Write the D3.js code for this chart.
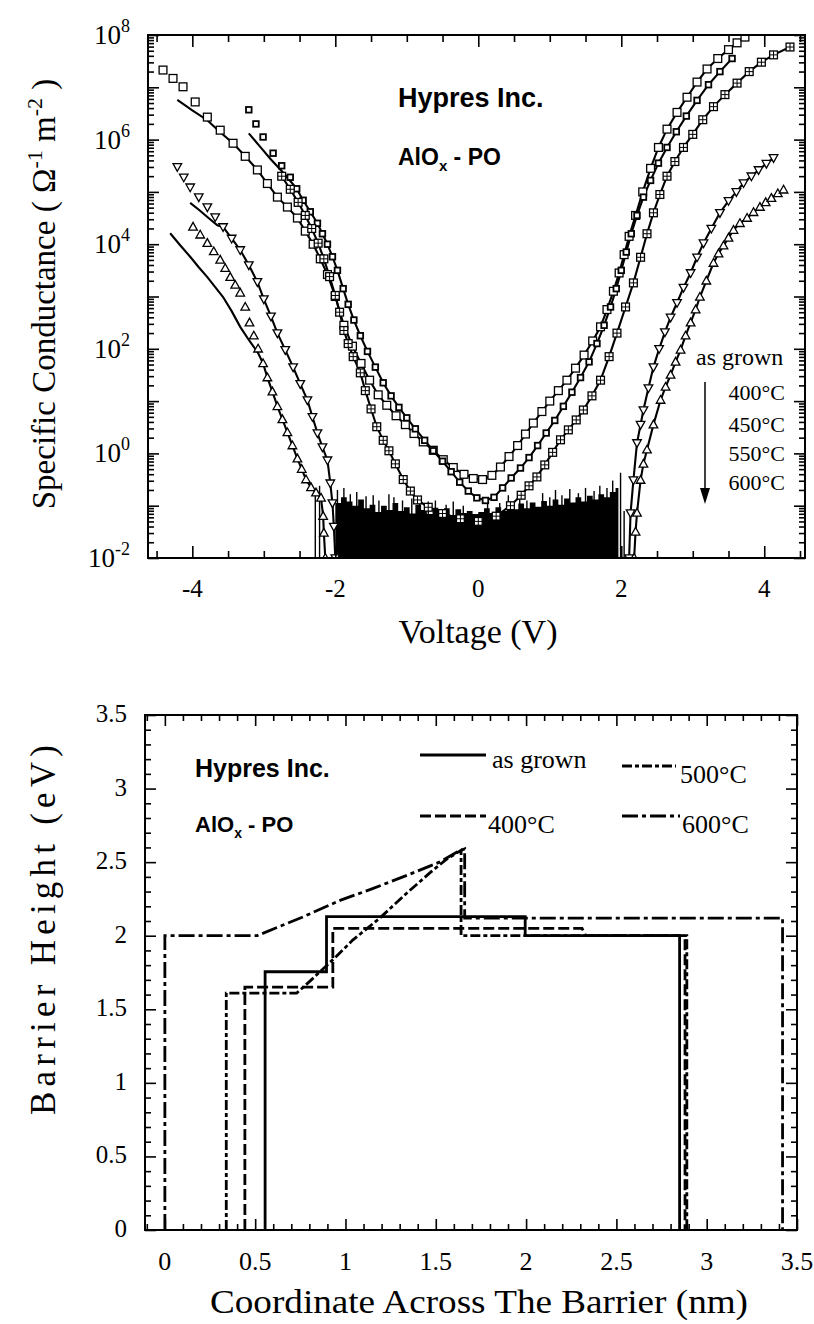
<!DOCTYPE html>
<html>
<head>
<meta charset="utf-8">
<script src="https://cdn.jsdelivr.net/npm/d3@7"></script>
<style>
  body { margin: 0; background: #fff; }
  svg { display: block; }
  .serif { font-family: "Liberation Serif", "Times New Roman", serif; fill: #000; }
  .sans { font-family: "Liberation Sans", Arial, sans-serif; font-weight: bold; fill: #000; }
</style>
</head>
<body>
<svg id="fig" width="814" height="1324"></svg>
<script>
// ================= Upper panel: specific conductance vs voltage =================
// Each point is [voltage (V), log10 of conductance (Ω⁻¹ m⁻²)]
const voltageTicks = [-4, -2, 0, 2, 4];
const decadeLabels = [-2, 0, 2, 4, 6, 8];
const annealLabels = ["400°C", "450°C", "550°C", "600°C"];

const asGrownPts = [[-4.41,7.33],[-4.27,7.17],[-4.13,7.01],[-3.96,6.72],[-3.79,6.43],[-3.61,6.18],[-3.43,5.93],[-3.26,5.68],[-3.09,5.42],[-2.95,5.16],[-2.81,4.90],[-2.67,4.71],[-2.53,4.50],[-2.42,4.25],[-2.31,4.00],[-2.21,3.72],[-2.11,3.42],[-2.00,3.00],[-1.88,2.45],[-1.76,2.05],[-1.64,1.72],[-1.52,1.40],[-1.40,1.12],[-1.28,0.92],[-1.15,0.72],[-1.02,0.55],[-0.90,0.38],[-0.77,0.22],[-0.63,0.06],[-0.49,-0.12],[-0.35,-0.27],[-0.20,-0.40],[-0.07,-0.48],[0.06,-0.50],[0.19,-0.42],[0.31,-0.26],[0.43,-0.06],[0.55,0.15],[0.66,0.37],[0.77,0.58],[0.89,0.80],[1.00,1.00],[1.12,1.20],[1.24,1.40],[1.36,1.63],[1.48,1.88],[1.60,2.15],[1.71,2.42],[1.80,2.75],[1.89,3.10],[1.97,3.45],[2.04,3.80],[2.11,4.15],[2.20,4.55],[2.30,5.00],[2.41,5.45],[2.52,5.85],[2.64,6.20],[2.78,6.52],[2.92,6.81],[3.06,7.10],[3.20,7.35],[3.35,7.55],[3.50,7.72],[3.62,7.85],[3.73,7.96]];
const asGrownFitLead = [[-4.21,6.76],[-4.00,6.56],[-3.79,6.37],[-3.61,6.14]];

const anneal400Pts = [[-3.21,6.57],[-3.11,6.30],[-3.01,6.05],[-2.87,5.74],[-2.75,5.50],[-2.63,5.28],[-2.54,5.06],[-2.45,4.84],[-2.35,4.62],[-2.25,4.40],[-2.18,4.20],[-2.11,4.00],[-2.04,3.76],[-1.97,3.50],[-1.89,3.15],[-1.82,2.85],[-1.74,2.55],[-1.65,2.25],[-1.55,1.95],[-1.44,1.65],[-1.33,1.35],[-1.22,1.10],[-1.11,0.88],[-1.00,0.68],[-0.88,0.47],[-0.75,0.25],[-0.63,0.05],[-0.50,-0.15],[-0.38,-0.35],[-0.26,-0.55],[-0.14,-0.72],[-0.02,-0.85],[0.10,-0.90],[0.22,-0.84],[0.34,-0.66],[0.46,-0.47],[0.59,-0.28],[0.71,-0.08],[0.83,0.15],[0.95,0.39],[1.07,0.63],[1.19,0.90],[1.31,1.17],[1.43,1.45],[1.55,1.75],[1.66,2.10],[1.76,2.45],[1.85,2.80],[1.93,3.15],[2.00,3.50],[2.07,3.85],[2.14,4.20],[2.22,4.55],[2.31,4.90],[2.41,5.22],[2.52,5.55],[2.64,5.85],[2.77,6.15],[2.91,6.45],[3.06,6.75],[3.22,7.05],[3.38,7.30],[3.55,7.55]];
const anneal400FitLead = [[-3.21,6.12],[-3.05,5.86],[-2.90,5.62],[-2.75,5.40],[-2.60,5.16]];

const anneal450Pts = [[-2.75,5.30],[-2.63,5.05],[-2.52,4.80],[-2.42,4.55],[-2.33,4.30],[-2.24,4.02],[-2.16,3.72],[-2.08,3.38],[-2.00,3.02],[-1.94,2.70],[-1.88,2.35],[-1.82,2.10],[-1.75,1.85],[-1.65,1.54],[-1.58,1.20],[-1.50,0.85],[-1.42,0.51],[-1.33,0.25],[-1.25,0.05],[-1.16,-0.20],[-1.05,-0.50],[-0.95,-0.72],[-0.85,-0.89],[-0.70,-1.03],[-0.50,-1.15],[-0.25,-1.25],[0.00,-1.30],[0.25,-1.20],[0.45,-1.00],[0.60,-0.80],[0.71,-0.62],[0.82,-0.45],[0.93,-0.22],[1.04,0.02],[1.15,0.26],[1.26,0.45],[1.37,0.64],[1.47,0.83],[1.59,1.10],[1.71,1.40],[1.83,1.85],[1.94,2.30],[2.06,2.80],[2.17,3.26],[2.27,3.75],[2.36,4.20],[2.45,4.60],[2.54,4.95],[2.64,5.30],[2.75,5.58],[2.87,5.85],[3.00,6.10],[3.14,6.38],[3.29,6.63],[3.45,6.86],[3.62,7.08],[3.79,7.30],[3.96,7.48],[4.13,7.62],[4.36,7.77]];

const anneal550Left = [[-4.21,5.48],[-4.12,5.28],[-4.03,5.09],[-3.91,4.90],[-3.79,4.71],[-3.68,4.52],[-3.57,4.33],[-3.45,4.11],[-3.33,3.89],[-3.21,3.60],[-3.09,3.28],[-3.00,2.95],[-2.90,2.62],[-2.81,2.30],[-2.70,1.98],[-2.59,1.65],[-2.49,1.33],[-2.39,1.02],[-2.32,0.70],[-2.25,0.39],[-2.18,0.12],[-2.11,-0.13],[-2.07,-0.57],[-2.04,-0.95],[-2.02,-1.40],[-2.00,-2.00]];
const anneal550FitLead = [[-4.03,4.79],[-3.90,4.65],[-3.79,4.52],[-3.65,4.36]];
const anneal550Right = [[2.11,-2.00],[2.13,-1.14],[2.17,-0.51],[2.22,0.20],[2.27,0.55],[2.31,0.83],[2.38,1.25],[2.45,1.65],[2.53,2.00],[2.61,2.32],[2.69,2.60],[2.78,2.88],[2.87,3.17],[2.97,3.45],[3.06,3.75],[3.15,4.02],[3.26,4.30],[3.38,4.60],[3.50,4.83],[3.61,5.00],[3.71,5.17],[3.82,5.30],[3.92,5.42],[4.03,5.54],[4.13,5.65]];

const anneal600Left = [[-3.99,4.33],[-3.89,4.18],[-3.79,4.02],[-3.70,3.86],[-3.61,3.70],[-3.54,3.54],[-3.47,3.37],[-3.40,3.22],[-3.33,3.07],[-3.26,2.80],[-3.20,2.50],[-3.14,2.25],[-3.08,2.00],[-3.01,1.72],[-2.95,1.45],[-2.88,1.18],[-2.81,0.90],[-2.74,0.65],[-2.67,0.40],[-2.60,0.15],[-2.53,-0.10],[-2.47,-0.30],[-2.41,-0.50],[-2.34,-0.65],[-2.27,-0.75],[-2.20,-0.85],[-2.17,-1.20],[-2.16,-1.52],[-2.14,-2.00]];
const anneal600FitLead = [[-4.31,4.21],[-4.17,3.98],[-4.03,3.76],[-3.91,3.56],[-3.79,3.37],[-3.68,3.18],[-3.57,2.99],[-3.45,2.72],[-3.33,2.42],[-3.20,2.15],[-3.08,1.92]];
const anneal600Right = [[2.18,-2.00],[2.20,-1.50],[2.22,-1.14],[2.27,-0.51],[2.31,-0.20],[2.36,0.07],[2.45,0.55],[2.55,1.02],[2.62,1.27],[2.69,1.50],[2.76,1.75],[2.83,1.98],[2.90,2.25],[2.97,2.50],[3.04,2.75],[3.10,2.99],[3.19,3.30],[3.29,3.64],[3.36,3.82],[3.43,3.97],[3.50,4.12],[3.57,4.27],[3.66,4.40],[3.76,4.50],[3.85,4.61],[3.94,4.71],[4.02,4.80],[4.10,4.88],[4.19,4.97],[4.27,5.04]];

// measurement noise floor near zero bias: [voltage, upper edge in log10]
const noiseFloorTop = [[-2.00,-0.95],[-1.92,-0.84],[-1.84,-0.92],[-1.76,-1.00],[-1.68,-0.88],[-1.60,-1.05],[-1.52,-0.98],[-1.44,-1.12],[-1.36,-1.00],[-1.28,-1.08],[-1.20,-0.95],[-1.12,-1.10],[-1.04,-1.03],[-0.96,-1.15],[-0.88,-0.98],[-0.80,-1.08],[-0.72,-1.16],[-0.64,-1.04],[-0.56,-1.12],[-0.48,-1.05],[-0.40,-1.18],[-0.32,-1.07],[-0.24,-1.14],[-0.16,-1.10],[-0.08,-1.16],[0.00,-1.12],[0.08,-1.05],[0.16,-1.14],[0.24,-1.03],[0.32,-1.10],[0.40,-1.00],[0.48,-1.07],[0.56,-0.96],[0.64,-1.05],[0.72,-0.94],[0.80,-1.02],[0.88,-0.91],[0.96,-1.00],[1.04,-0.88],[1.12,-0.98],[1.20,-0.86],[1.28,-0.94],[1.36,-0.84],[1.44,-0.92],[1.52,-0.81],[1.60,-0.88],[1.68,-0.78],[1.76,-0.84],[1.84,-0.74],[1.92,-0.66],[1.96,-0.66]];
const noiseSpikes = [[-2.28,-0.70],[-2.22,-0.62],[-1.97,-0.70],[-1.88,-0.66],[-1.79,-0.78],[-1.70,-0.74],[-1.57,-0.82],[-1.47,-0.80],[-1.39,-0.90],[-1.25,-0.78],[-1.18,-0.84],[-1.06,-0.90],[-0.93,-0.86],[-0.82,-0.95],[-0.70,-0.92],[-0.60,-0.90],[-0.45,-0.98],[-0.35,-0.92],[-0.21,-1.00],[0.13,-0.94],[0.30,-0.95],[0.42,-0.80],[0.58,-0.76],[0.68,-0.90],[0.90,-0.76],[1.00,-0.84],[1.08,-0.70],[1.17,-0.80],[1.28,-0.68],[1.40,-0.76],[1.50,-0.66],[1.62,-0.72],[1.70,-0.62],[1.80,-0.66],[1.88,-0.52],[1.99,-0.37],[2.04,-1.10]];

// ================= Lower panel: barrier height profiles =================
// Each point is [coordinate (nm), barrier height (eV)]
const coordTicks = [0, 0.5, 1, 1.5, 2, 2.5, 3, 3.5];
const heightTicks = [0, 0.5, 1, 1.5, 2, 2.5, 3, 3.5];
const profileNames = ["as grown", "400°C", "500°C", "600°C"];
const profileAsGrown = [[0.555,0],[0.555,1.755],[0.895,1.755],[0.895,2.13],[1.995,2.13],[1.995,2.0],[2.85,2.0],[2.85,0]];
const profile400 = [[0.443,0],[0.443,1.65],[0.93,1.65],[0.93,2.05],[2.31,2.05],[2.33,2.0],[2.88,2.0],[2.88,0]];
const profile500 = [[0.34,0],[0.34,1.61],[0.73,1.61],[0.82,1.71],[0.95,1.86],[1.04,1.97],[1.19,2.12],[1.34,2.29],[1.47,2.43],[1.56,2.52],[1.64,2.58],[1.64,2.0],[2.89,2.0],[2.89,0]];
const profile600 = [[0,0],[0,2.0],[0.51,2.0],[0.75,2.12],[0.97,2.24],[1.15,2.32],[1.34,2.41],[1.52,2.50],[1.62,2.57],[1.66,2.59],[1.66,2.12],[3.42,2.12],[3.42,0]];

// ------------------------------------------------------------------------
const svg = d3.select("#fig");
const SERIF = "serif", SANS = "sans";

function addText(g, str, x, y, size, cls, anchor) {
  return g.append("text").attr("class", cls).attr("x", x).attr("y", y)
    .attr("font-size", size).attr("text-anchor", anchor || "start").text(str);
}

// ---------------- upper panel ----------------
const P1 = { left: 148, right: 805, top: 35, bottom: 558 };
const xV = d3.scaleLinear().domain([-4.62, 4.57]).range([P1.left, P1.right]);
const yG = d3.scaleLog().domain([1e-2, 1e8]).range([P1.bottom, P1.top]);
const g1 = svg.append("g");

g1.append("clipPath").attr("id", "clip1").append("rect")
  .attr("x", P1.left).attr("y", P1.top).attr("width", P1.right - P1.left).attr("height", P1.bottom - P1.top);
const plot1 = g1.append("g").attr("clip-path", "url(#clip1)");

const lineVG = d3.line().x(d => xV(d[0])).y(d => yG(Math.pow(10, d[1])));

// noise floor mass
const floorArea = d3.area()
  .x(d => xV(d[0]))
  .y0(yG(1e-2) + 2)
  .y1(d => yG(Math.pow(10, d[1])))
  .curve(d3.curveStepAfter);
plot1.append("path").datum(noiseFloorTop).attr("d", floorArea).attr("fill", "#000");
plot1.selectAll("line.spike").data(noiseSpikes).join("line").attr("class", "spike")
  .attr("x1", d => xV(d[0])).attr("x2", d => xV(d[0]))
  .attr("y1", d => yG(Math.pow(10, d[1]))).attr("y2", P1.bottom)
  .attr("stroke", "#000").attr("stroke-width", 1.4);

const series = [
  { pts: asGrownPts, lead: asGrownFitLead, marker: "square" },
  { pts: anneal400Pts, lead: anneal400FitLead, marker: "smallSquare" },
  { pts: anneal450Pts, lead: null, marker: "crossSquare" },
  { pts: anneal550Left, lead: anneal550FitLead, marker: "triDown" },
  { pts: anneal550Right, lead: null, marker: "triDown" },
  { pts: anneal600Left, lead: anneal600FitLead, marker: "triUp" },
  { pts: anneal600Right, lead: null, marker: "triUp" }
];

// fitted curves
series.forEach(s => {
  let path = s.pts;
  if (s.lead) {
    const lastV = s.lead[s.lead.length - 1][0];
    path = s.lead.concat(s.pts.filter(p => p[0] > lastV));
  }
  plot1.append("path").datum(path).attr("d", lineVG)
    .attr("fill", "none").attr("stroke", "#000").attr("stroke-width", 2.1);
});

// measured points
function drawMarker(g, type, cx, cy) {
  const st = { stroke: "#000", "stroke-width": 1.3, fill: "#fff" };
  let el;
  if (type === "square" || type === "crossSquare") {
    const h = 3.9;
    el = g.append("rect").attr("x", cx - h).attr("y", cy - h).attr("width", 2 * h).attr("height", 2 * h);
  } else if (type === "smallSquare") {
    const h = 2.8;
    el = g.append("rect").attr("x", cx - h).attr("y", cy - h).attr("width", 2 * h).attr("height", 2 * h);
    st["stroke-width"] = 1.8;
  } else if (type === "triUp") {
    el = g.append("path").attr("d", `M${cx},${cy - 4.5}L${cx + 4.3},${cy + 3.2}L${cx - 4.3},${cy + 3.2}Z`);
  } else {
    el = g.append("path").attr("d", `M${cx},${cy + 4.5}L${cx + 4.3},${cy - 3.2}L${cx - 4.3},${cy - 3.2}Z`);
  }
  Object.entries(st).forEach(([k, v]) => el.attr(k, v));
  if (type === "crossSquare") {
    g.append("path").attr("d", `M${cx - 3.9},${cy}H${cx + 3.9}M${cx},${cy - 3.9}V${cy + 3.9}`)
      .attr("stroke", "#000").attr("stroke-width", 1);
  }
}
series.forEach(s => {
  const mg = plot1.append("g");
  s.pts.forEach(p => drawMarker(mg, s.marker, xV(p[0]), yG(Math.pow(10, p[1]))));
});

// axes (inward ticks on all four sides)
function styleAxis(sel) {
  sel.select(".domain").remove();
  sel.selectAll(".tick line").attr("stroke", "#000").attr("stroke-width", 1.6);
}
const vMinor = d3.range(-4.5, 4.51, 0.5).filter(v => !voltageTicks.includes(v));
const decades = d3.range(-2, 9);
const logMinor = [];
decades.slice(0, -1).forEach(d => d3.range(2, 10).forEach(m => logMinor.push(m * Math.pow(10, d))));
const gMaj = x => Math.pow(10, x);

g1.append("g").attr("transform", `translate(0,${P1.bottom})`)
  .call(d3.axisBottom(xV).tickValues(voltageTicks).tickSize(-12).tickFormat("")).call(styleAxis);
g1.append("g").attr("transform", `translate(0,${P1.bottom})`)
  .call(d3.axisBottom(xV).tickValues(vMinor).tickSize(-7).tickFormat("")).call(styleAxis);
g1.append("g").attr("transform", `translate(0,${P1.top})`)
  .call(d3.axisTop(xV).tickValues(voltageTicks).tickSize(-12).tickFormat("")).call(styleAxis);
g1.append("g").attr("transform", `translate(0,${P1.top})`)
  .call(d3.axisTop(xV).tickValues(vMinor).tickSize(-7).tickFormat("")).call(styleAxis);
g1.append("g").attr("transform", `translate(${P1.left},0)`)
  .call(d3.axisLeft(yG).tickValues(decades.map(gMaj)).tickSize(-11).tickFormat("")).call(styleAxis);
g1.append("g").attr("transform", `translate(${P1.left},0)`)
  .call(d3.axisLeft(yG).tickValues(logMinor).tickSize(-6).tickFormat("")).call(styleAxis);
g1.append("g").attr("transform", `translate(${P1.right},0)`)
  .call(d3.axisRight(yG).tickValues(decades.map(gMaj)).tickSize(-11).tickFormat("")).call(styleAxis);
g1.append("g").attr("transform", `translate(${P1.right},0)`)
  .call(d3.axisRight(yG).tickValues(logMinor).tickSize(-6).tickFormat("")).call(styleAxis);

g1.append("rect").attr("x", P1.left).attr("y", P1.top)
  .attr("width", P1.right - P1.left).attr("height", P1.bottom - P1.top)
  .attr("fill", "none").attr("stroke", "#000").attr("stroke-width", 2);

// tick labels
voltageTicks.forEach(v => addText(g1, String(v), xV(v), 597, 25, SERIF, "middle"));
decadeLabels.forEach(d => {
  const t = g1.append("text").attr("class", SERIF).attr("x", 130).attr("y", yG(gMaj(d)) + 9)
    .attr("font-size", 27).attr("text-anchor", "end");
  t.append("tspan").text("10");
  t.append("tspan").attr("font-size", 18).attr("dy", -12).text(String(d));
});

// axis titles
addText(g1, "Voltage (V)", 478, 643, 34, SERIF, "middle");
const yt1 = g1.append("text").attr("class", SERIF).attr("font-size", 33)
  .attr("text-anchor", "middle").attr("transform", "translate(55,294) rotate(-90)");
yt1.append("tspan").text("Specific Conductance ( Ω");
yt1.append("tspan").attr("font-size", 22).attr("dy", -13).text("-1");
yt1.append("tspan").attr("dy", 13).text(" m");
yt1.append("tspan").attr("font-size", 22).attr("dy", -13).text("-2");
yt1.append("tspan").attr("dy", 13).text(" )");

// annotations
addText(g1, "Hypres Inc.", 398, 107, 27, SANS);
const ao1 = g1.append("text").attr("class", SANS).attr("x", 398).attr("y", 165).attr("font-size", 23);
ao1.append("tspan").text("AlO");
ao1.append("tspan").attr("font-size", 15).attr("dy", 6).text("x");
ao1.append("tspan").attr("dy", -6).text(" - PO");

// legend with arrow
addText(g1, "as grown", 696, 365, 24, SERIF);
annealLabels.forEach((s, i) => addText(g1, s, 785, [400, 432, 461, 490][i], 22, SERIF, "end"));
g1.append("line").attr("x1", 705).attr("x2", 705).attr("y1", 382).attr("y2", 494)
  .attr("stroke", "#000").attr("stroke-width", 1.5);
g1.append("path").attr("d", "M700,488L705,504L710,488Z").attr("fill", "#000");

// ---------------- lower panel ----------------
const P2 = { left: 145, right: 797, top: 715, bottom: 1230 };
const xC = d3.scaleLinear().domain([-0.11, 3.5]).range([P2.left, P2.right]);
const yB = d3.scaleLinear().domain([0, 3.5]).range([P2.bottom, P2.top]);
const g2 = svg.append("g");

const cMinor = d3.range(-0.1, 3.51, 0.1).map(v => +v.toFixed(2)).filter(v => !coordTicks.includes(v));
const hMinor = d3.range(0.1, 3.5, 0.1).map(v => +v.toFixed(2)).filter(v => !heightTicks.includes(v));

g2.append("g").attr("transform", `translate(0,${P2.bottom})`)
  .call(d3.axisBottom(xC).tickValues(coordTicks).tickSize(-11).tickFormat("")).call(styleAxis);
g2.append("g").attr("transform", `translate(0,${P2.bottom})`)
  .call(d3.axisBottom(xC).tickValues(cMinor).tickSize(-6).tickFormat("")).call(styleAxis);
g2.append("g").attr("transform", `translate(0,${P2.top})`)
  .call(d3.axisTop(xC).tickValues(coordTicks).tickSize(-11).tickFormat("")).call(styleAxis);
g2.append("g").attr("transform", `translate(0,${P2.top})`)
  .call(d3.axisTop(xC).tickValues(cMinor).tickSize(-6).tickFormat("")).call(styleAxis);
g2.append("g").attr("transform", `translate(${P2.left},0)`)
  .call(d3.axisLeft(yB).tickValues(heightTicks).tickSize(-11).tickFormat("")).call(styleAxis);
g2.append("g").attr("transform", `translate(${P2.left},0)`)
  .call(d3.axisLeft(yB).tickValues(hMinor).tickSize(-6).tickFormat("")).call(styleAxis);
g2.append("g").attr("transform", `translate(${P2.right},0)`)
  .call(d3.axisRight(yB).tickValues(heightTicks).tickSize(-11).tickFormat("")).call(styleAxis);
g2.append("g").attr("transform", `translate(${P2.right},0)`)
  .call(d3.axisRight(yB).tickValues(hMinor).tickSize(-6).tickFormat("")).call(styleAxis);

const lineCB = d3.line().x(d => xC(d[0])).y(d => yB(d[1]));
const profiles = [
  { pts: profileAsGrown, dash: null },
  { pts: profile400, dash: "11,4" },
  { pts: profile500, dash: "10,3,4,3" },
  { pts: profile600, dash: "16,4,4,4" }
];
profiles.forEach(p => {
  g2.append("path").datum(p.pts).attr("d", lineCB)
    .attr("fill", "none").attr("stroke", "#000").attr("stroke-width", 2.8)
    .attr("stroke-dasharray", p.dash);
});

g2.append("rect").attr("x", P2.left).attr("y", P2.top)
  .attr("width", P2.right - P2.left).attr("height", P2.bottom - P2.top)
  .attr("fill", "none").attr("stroke", "#000").attr("stroke-width", 2);

coordTicks.forEach(v => addText(g2, String(v), xC(v), 1270, 26, SERIF, "middle"));
heightTicks.forEach(v => addText(g2, String(v), 127, yB(v) + 7, 25, SERIF, "end"));

addText(g2, "Coordinate Across The Barrier (nm)", 479, 1313, 33, SERIF, "middle")
  .attr("textLength", 538).attr("lengthAdjust", "spacingAndGlyphs");
addText(g2, "Barrier Height (eV)", 0, 0, 35, SERIF, "middle")
  .attr("transform", "translate(55,930) rotate(-90)")
  .attr("textLength", 370).attr("lengthAdjust", "spacing");

addText(g2, "Hypres Inc.", 195, 777, 25, SANS);
const ao2 = g2.append("text").attr("class", SANS).attr("x", 195).attr("y", 832).attr("font-size", 22);
ao2.append("tspan").text("AlO");
ao2.append("tspan").attr("font-size", 14).attr("dy", 6).text("x");
ao2.append("tspan").attr("dy", -6).text(" - PO");

// legend
const legendSlots = [
  { x1: 420, x2: 486, y: 755, tx: 492, ty: 768 },
  { x1: 420, x2: 486, y: 816, tx: 488, ty: 833 },
  { x1: 622, x2: 676, y: 766, tx: 680, ty: 783 },
  { x1: 622, x2: 680, y: 816, tx: 682, ty: 833 }
];
profiles.forEach((p, i) => {
  const s = legendSlots[i];
  g2.append("line").attr("x1", s.x1).attr("x2", s.x2).attr("y1", s.y).attr("y2", s.y)
    .attr("stroke", "#000").attr("stroke-width", 3).attr("stroke-dasharray", p.dash);
  addText(g2, profileNames[i], s.tx, s.ty, 26, SERIF);
});
</script>
</body>
</html>
